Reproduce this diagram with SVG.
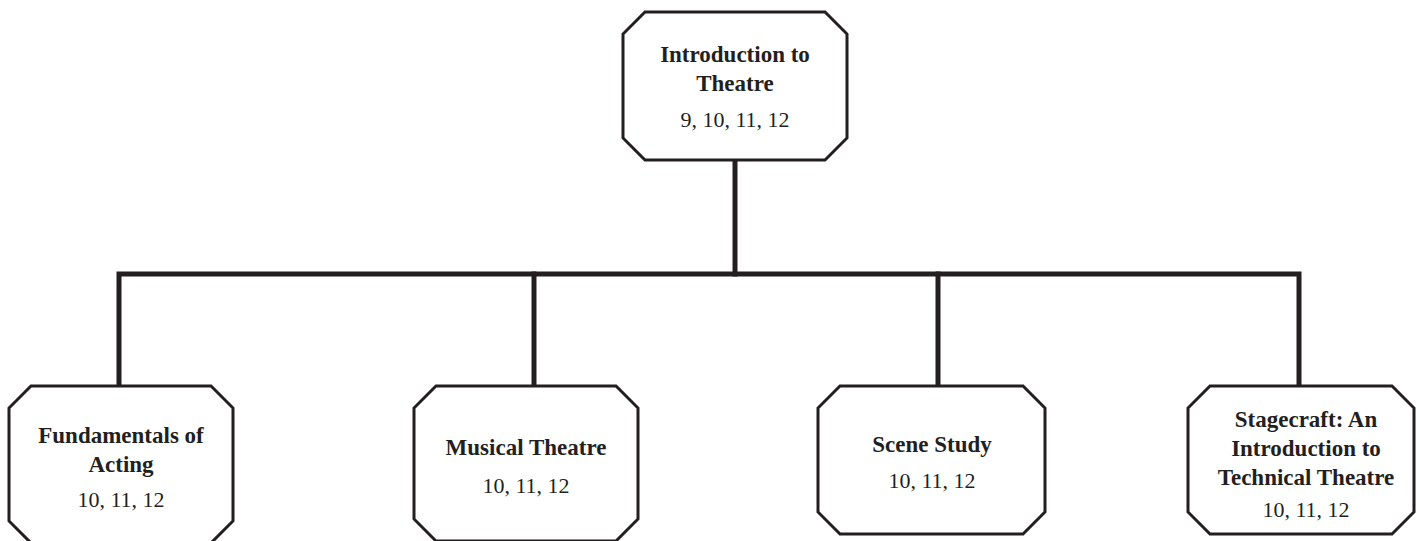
<svg xmlns="http://www.w3.org/2000/svg" width="1417" height="541" viewBox="0 0 1417 541">
<style>
.box{fill:#fff;stroke:#231f20;stroke-width:3;stroke-linejoin:miter}
.conn{fill:none;stroke:#231f20;stroke-width:5;stroke-linecap:square;stroke-linejoin:miter}
.t{font-family:"Liberation Serif","Times New Roman",serif;font-size:23px;font-weight:bold;fill:#231f20;text-anchor:middle}
.n{font-family:"Liberation Serif","Times New Roman",serif;font-size:22px;fill:#231f20;text-anchor:middle}
</style>
<rect width="1417" height="541" fill="#fff"/>
<g id="connectors">
<path class="conn" d="M735 161 V274"/>
<path class="conn" d="M119 386 V274 H1299 V386"/>
<path class="conn" d="M534 274 V386"/>
<path class="conn" d="M938 274 V386"/>
</g>
<g id="intro">
<polygon class="box" points="645,12 825,12 847,34 847,138 825,160 645,160 623,138 623,34"/>
<text class="t" x="735" y="62">Introduction to</text>
<text class="t" x="735" y="91">Theatre</text>
<text class="n" x="735" y="127">9, 10, 11, 12</text>
</g>
<g id="fundamentals">
<polygon class="box" points="31,386 211,386 233,408 233,521 211,543 31,543 9,521 9,408"/>
<text class="t" x="121" y="443">Fundamentals of</text>
<text class="t" x="121" y="472">Acting</text>
<text class="n" x="121" y="507">10, 11, 12</text>
</g>
<g id="musical">
<polygon class="box" points="436,386 616,386 638,408 638,519 616,541 436,541 414,519 414,408"/>
<text class="t" x="526" y="455">Musical Theatre</text>
<text class="n" x="526" y="493">10, 11, 12</text>
</g>
<g id="scene">
<polygon class="box" points="840,386 1023,386 1045,408 1045,512 1023,534 840,534 818,512 818,408"/>
<text class="t" x="932" y="452">Scene Study</text>
<text class="n" x="932" y="488">10, 11, 12</text>
</g>
<g id="stagecraft">
<polygon class="box" points="1210,386 1392,386 1414,408 1414,512 1392,534 1210,534 1188,512 1188,408"/>
<text class="t" x="1306" y="427">Stagecraft: An</text>
<text class="t" x="1306" y="456">Introduction to</text>
<text class="t" x="1306" y="485">Technical Theatre</text>
<text class="n" x="1306" y="517">10, 11, 12</text>
</g>
</svg>
